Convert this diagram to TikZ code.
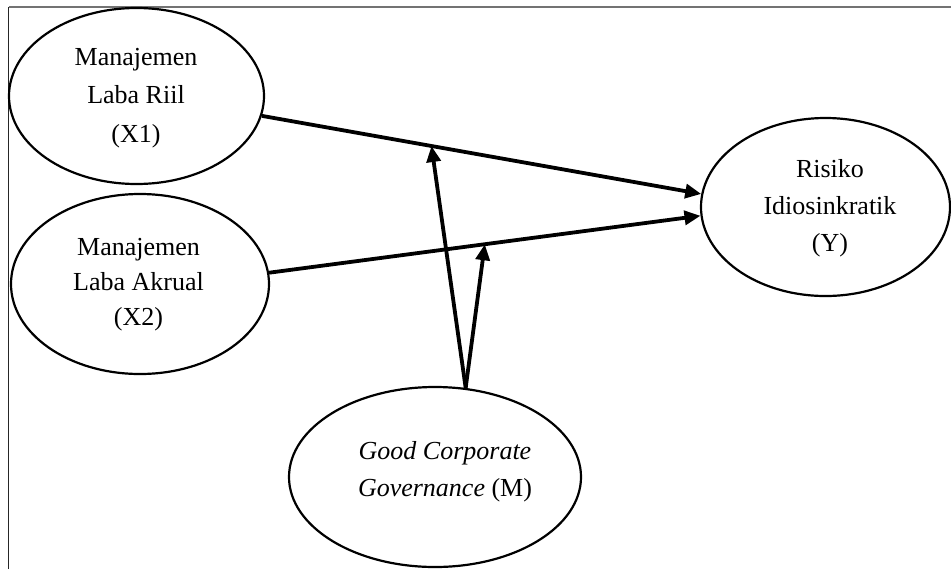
\documentclass[tikz,border=0pt]{standalone}
\usepackage{fontspec}
\setmainfont{Liberation Serif}
\usetikzlibrary{shapes.geometric,arrows.meta,calc}

\tikzset{
  construct/.style={ellipse, draw=black, line width=2.2pt, fill=white, inner sep=0pt},
  caption/.style={align=center, inner sep=0pt, font=\fontsize{26}{37}\selectfont},
  path arrow/.style={line width=3.8pt, -{Triangle[length=16pt,width=14pt]}},
}

\begin{document}
\begin{tikzpicture}[x=1pt, y=-1pt]
  \useasboundingbox (0,0) rectangle (951,571);

  % frame
  \draw[line width=1.8pt, black!85] (8.5,569) -- (8.5,7);
  \draw[line width=1.8pt, black!55] (8.5,7) -- (951,7);

  % constructs
  \node[construct, minimum width=255pt, minimum height=176pt] (x1) at (136.5,96) {};
  \node[construct, minimum width=258pt, minimum height=180pt] (x2) at (140,284) {};
  \node[construct, minimum width=249pt, minimum height=178pt] (y)  at (825.5,207) {};
  \node[construct, minimum width=292pt, minimum height=180pt] (m)  at (435,477) {};

  \node[caption, font=\fontsize{26}{38.5}\selectfont] (x1t) at (136,98) {Manajemen\\Laba Riil\\(X1)};
  \node[caption, font=\fontsize{26}{35}\selectfont] (x2t) at (138.5,285) {Manajemen\\Laba Akrual\\(X2)};
  \node[caption] (yt) at (830,208) {Risiko\\Idiosinkratik\\(Y)};
  \node[caption] (mt) at (445,472) {\textit{Good Corporate}\\\textit{Governance} (M)};

  % direct effects
  \draw[path arrow] (x1.-9) -- (y.174);
  \draw[path arrow] (x2.5) -- (y.184);

  % moderation by GCG
  \coordinate (mod1) at ($(x1.-9)!0.386!(y.174)$);
  \coordinate (mod2) at ($(x2.5)!0.5!(y.184)$);
  \draw[path arrow] (m.71) -- (mod1);
  \draw[path arrow] (m.71) -- (mod2);
\end{tikzpicture}
\end{document}
